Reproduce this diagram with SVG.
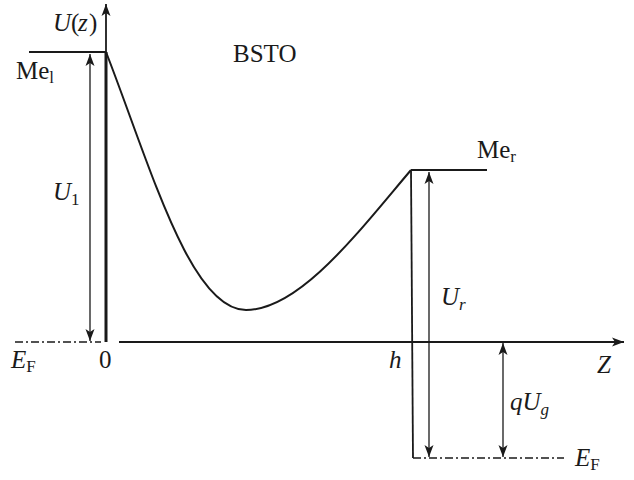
<svg xmlns="http://www.w3.org/2000/svg" width="634" height="480" viewBox="0 0 634 480">
<style>
.ln{stroke:#1a1a1a;fill:none}
.ax{stroke-width:1.8}
.ar{stroke-width:1.3}
.dd{stroke-width:1.3;stroke-dasharray:8 3 2 3}
text{font-family:"Liberation Serif","DejaVu Serif","Times New Roman",serif;font-size:25px;fill:#1a1a1a}
.it{font-style:italic}
.sub{font-size:17px}
</style>
<defs>
<marker id="ah" markerWidth="14" markerHeight="10" refX="12" refY="5" orient="auto-start-reverse" markerUnits="userSpaceOnUse">
<path d="M0,0.5 L12,5 L0,9.5 L3,5 Z" fill="#1a1a1a"/>
</marker>
</defs>
<g id="connectors">
<line class="ln ax" x1="106" y1="342" x2="106" y2="4" marker-end="url(#ah)"/>
<line class="ln" stroke-width="3" x1="106" y1="52" x2="106" y2="342"/>
<line class="ln ax" x1="119" y1="342" x2="624" y2="342" marker-end="url(#ah)"/>
<line class="ln dd" x1="15" y1="342" x2="101" y2="342"/>
<line class="ln ax" x1="29" y1="52" x2="106" y2="52"/>
<line class="ln ar" x1="90" y1="54" x2="90" y2="341" marker-start="url(#ah)" marker-end="url(#ah)"/>
<path class="ln" stroke-width="2" d="M106,52 C150,165 190,310 246,310 C300,310 360,230 411,170"/>
<line class="ln ax" x1="411" y1="170" x2="487" y2="170"/>
<line class="ln ax" x1="411" y1="170" x2="413" y2="458"/>
<line class="ln ar" x1="429" y1="172" x2="429" y2="457" marker-start="url(#ah)" marker-end="url(#ah)"/>
<line class="ln ar" x1="503" y1="343" x2="503" y2="457" marker-start="url(#ah)" marker-end="url(#ah)"/>
<line class="ln dd" x1="413" y1="458" x2="564" y2="458"/>
</g>
<g id="labels">
<text class="it" x="53" y="31">U</text><text x="71" y="31">(</text><text class="it" x="78" y="31">z</text><text x="89" y="31">)</text>
<text x="233" y="62">BSTO</text>
<text x="16" y="79">Me<tspan class="sub" dy="4">l</tspan></text>
<text class="it" x="53" y="200">U<tspan class="sub" font-style="normal" dy="5">1</tspan></text>
<text class="it" x="11" y="368">E<tspan class="sub" font-style="normal" dy="4">F</tspan></text>
<text x="99" y="368">0</text>
<text class="it" x="389" y="368">h</text>
<text class="it" x="597" y="373">Z</text>
<text x="477" y="158">Me<tspan class="sub" dy="4">r</tspan></text>
<text class="it" x="441" y="305">U<tspan class="sub" dy="5">r</tspan></text>
<text class="it" x="510" y="410">qU<tspan class="sub" dy="5">g</tspan></text>
<text class="it" x="575" y="466">E<tspan class="sub" font-style="normal" dy="4">F</tspan></text>
</g>
</svg>
